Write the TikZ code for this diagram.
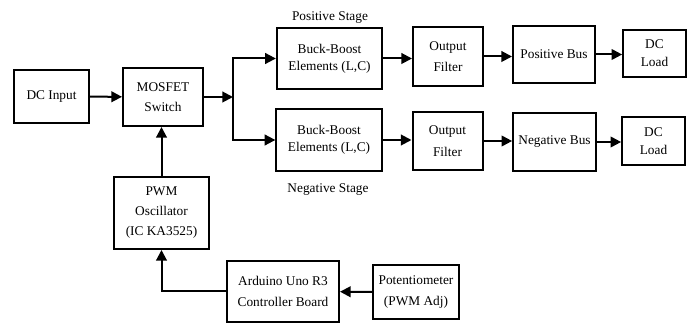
\documentclass[tikz,border=0pt]{standalone}
\usepackage{amsmath}
\usepackage{fontspec}
\setmainfont{Liberation Serif}
\usetikzlibrary{arrows.meta}

\tikzset{
  blk/.style={draw, line width=1.5pt, align=center, inner sep=0.75pt, font=\fontsize{10}{15}\selectfont},
  arr/.style={line width=1.5pt, -{Triangle[length=8pt,width=8pt]}},
}

\begin{document}
\begin{tikzpicture}[x=0.75pt,y=0.75pt,yscale=-1,xscale=1]
        \useasboundingbox (0,0) rectangle (694,324);

        %Shape: Rectangle [DC input]
        \node [blk, minimum width=56pt, minimum height=40pt] (dcin) at (51.5,96.5) {DC Input};
        %Shape: Rectangle [switch]
        \node [blk, minimum width=60pt, minimum height=43.5pt] (mosfet) at (163,97) {MOSFET\\Switch};
        %Shape: Rectangle [buck-boost, both stages]
        \node [blk, minimum width=79pt, minimum height=46pt, font=\fontsize{10}{13}\selectfont] (bbpos) at (329.5,58.5) {Buck-Boost\\Elements (L,C)};
        \node [blk, minimum width=79pt, minimum height=46pt, font=\fontsize{10}{13}\selectfont] (bbneg) at (329,140) {Buck-Boost\\Elements (L,C)};
        %Shape: Rectangle [filters]
        \node [blk, minimum width=52.5pt, minimum height=44pt, font=\fontsize{10}{16}\selectfont] (filpos) at (448,56.5) {Output\\Filter};
        \node [blk, minimum width=52.5pt, minimum height=43.5pt, font=\fontsize{10}{16}\selectfont] (filneg) at (447.5,141) {Output\\Filter};
        %Shape: Rectangle [buses]
        \node [blk, minimum width=61.5pt, minimum height=42.75pt] (buspos) at (554,54.5) {Positive Bus};
        \node [blk, minimum width=62pt, minimum height=43.5pt] (busneg) at (554.5,142) {Negative Bus};
        %Shape: Rectangle [loads]
        \node [blk, minimum width=47pt, minimum height=35pt, font=\fontsize{10}{13.5}\selectfont] (loadpos) at (654.5,53.5) {DC\\Load};
        \node [blk, minimum width=47pt, minimum height=36pt, font=\fontsize{10}{13.5}\selectfont] (loadneg) at (653.5,141) {DC\\Load};
        %Shape: Rectangle [control side]
        \node [blk, minimum width=71pt, minimum height=54pt] (pwm) at (161.5,213) {PWM\\Oscillator\\(IC KA3525)};
        \node [blk, minimum width=84pt, minimum height=46pt, font=\fontsize{10}{16}\selectfont] (ardu) at (283,291.5) {Arduino Uno R3\\Controller Board};
        \node [blk, minimum width=64.5pt, minimum height=40.5pt, font=\fontsize{10}{16}\selectfont] (pot) at (416,292) {Potentiometer\\ (PWM Adj)};

        % Text Node
        \node [font=\fontsize{10}{12}\selectfont] (lblpos) at (330,18) {Positive Stage};
        % Text Node
        \node [font=\fontsize{10}{12}\selectfont] (lblneg) at (328,190) {Negative Stage};

        %Straight Lines [power path]
        \coordinate (split) at (233,97);
        \draw [arr] (dcin) -- (mosfet);
        \draw [arr] (mosfet) -- (split);
        \draw [arr] (split) |- (bbpos);
        \draw [arr] (split) |- (bbneg);
        %Straight Lines [positive stage]
        \draw [arr] (bbpos.east) -- (bbpos.east -| filpos.west);
        \draw [arr] (filpos.east) -- (filpos.east -| buspos.west);
        \draw [arr] (buspos.east) -- (buspos.east -| loadpos.west);
        %Straight Lines [negative stage]
        \draw [arr] (bbneg.east) -- (bbneg.east -| filneg.west);
        \draw [arr] (filneg.east) -- (filneg.east -| busneg.west);
        \draw [arr] (busneg.east) -- (busneg.east -| loadneg.west);
        %Straight Lines [control path]
        \draw [arr] (pot) -- (ardu);
        \draw [arr] (ardu.west) -| (pwm.south);
        \draw [arr] (pwm.north) -- (pwm.north |- mosfet.south);

\end{tikzpicture}
\end{document}
